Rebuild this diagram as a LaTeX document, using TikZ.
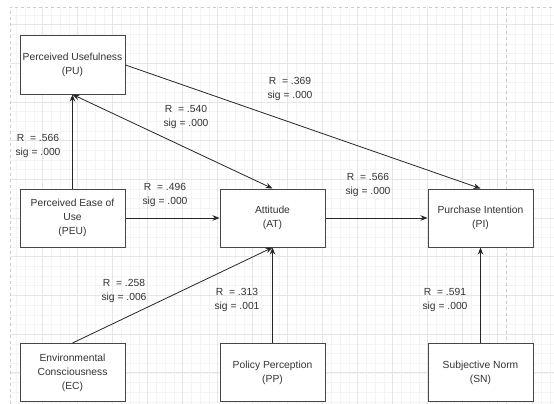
\documentclass[tikz,border=0pt]{standalone}
\usepackage{fontspec}
\setmainfont{Liberation Sans}
\usepackage{tikz}
\usetikzlibrary{arrows.meta}
\definecolor{gridMinor}{HTML}{F4F4F4}
\definecolor{gridMajor}{HTML}{E6E6E6}
\definecolor{pageLine}{HTML}{CCCCCC}
\definecolor{boxText}{HTML}{333333}

\tikzset{
  construct/.style={draw=black!72, line width=1pt, fill=white,
    minimum width=105pt, minimum height=58pt, inner sep=1pt,
    align=center, text=boxText, font=\fontsize{10.3}{14}\selectfont},
  stat/.style={align=center, text=boxText, font=\fontsize{10.3}{14}\selectfont},
  link/.style={draw=black!85, line width=0.8pt, -{Stealth[length=7pt,width=5.5pt]}},
  twolink/.style={draw=black!85, line width=0.8pt,
    {Stealth[length=7pt,width=5.5pt]}-{Stealth[length=7pt,width=5.5pt]}}
}

\begin{document}
\begin{tikzpicture}[x=1pt,y=-1pt]
        \useasboundingbox (0,0) rectangle (554,404);
        \fill[white] (0,0) rectangle (554,404);
        % grid
        \begin{scope}
            \clip (10,7) rectangle (554,404);
            \foreach \i in {0,...,62} {
                \pgfmathsetmacro\gx{7.7+8.75*\i}
                \draw[gridMinor, line width=0.6pt] (\gx,0) -- (\gx,404);
            }
            \foreach \i in {-2,...,40} {
                \pgfmathsetmacro\gy{24.7+9.67*\i}
                \draw[gridMinor, line width=0.6pt] (0,\gy) -- (554,\gy);
            }
            \foreach \i in {0,...,15} {
                \pgfmathsetmacro\gx{7.7+35*\i}
                \draw[gridMajor, line width=0.7pt] (\gx,0) -- (\gx,404);
            }
            \foreach \i in {0,...,10} {
                \pgfmathsetmacro\gy{24.7+38.67*\i}
                \draw[gridMajor, line width=0.7pt] (0,\gy) -- (554,\gy);
            }
        \end{scope}
        \draw[pageLine, dashed, line width=0.7pt] (10,404) -- (10,7) -- (554,7);
        \draw[pageLine, dashed, line width=0.7pt] (506,7) -- (506,404);

        % constructs
        \node[construct] (pu) at (72.5,65) {Perceived Usefulness\\(PU)};
        \node[construct] (peu) at (72.5,218) {Perceived Ease of\\Use\\(PEU)};
        \node[construct] (at) at (272.5,218) {Attitude\\(AT)};
        \node[construct] (pi) at (480.5,218) {Purchase Intention\\(PI)};
        \node[construct] (ec) at (72.5,372.5) {Environmental\\Consciousness\\(EC)};
        \node[construct] (pp) at (272.5,372.5) {Policy Perception\\(PP)};
        \node[construct] (sn) at (480.5,372.5) {Subjective Norm\\(SN)};

        % paths
        \draw[link] (peu) -- (pu);
        \draw[twolink] (pu.south) -- (at.north);
        \draw[link] (pu.east) -- (pi.north);
        \draw[link] (peu) -- (at);
        \draw[link] (at) -- (pi);
        \draw[link] (ec.north) -- (at.south);
        \draw[link] (pp) -- (at);
        \draw[link] (sn) -- (pi);

        % coefficients
        \node[stat] (s1) at (38,146) {R ~= .566\\sig = .000};
        \node[stat] (s2) at (186,117) {R ~= .540\\sig = .000};
        \node[stat] (s3) at (290,89) {R ~= .369\\sig = .000};
        \node[stat] (s4) at (165,195) {R ~= .496\\sig = .000};
        \node[stat] (s5) at (368,185) {R ~= .566\\sig = .000};
        \node[stat] (s6) at (124,290.5) {R ~= .258\\sig = .006};
        \node[stat] (s7) at (237,300) {R ~= .313\\sig = .001};
        \node[stat] (s8) at (445,300) {R ~= .591\\sig = .000};
    \end{tikzpicture}
\end{document}
